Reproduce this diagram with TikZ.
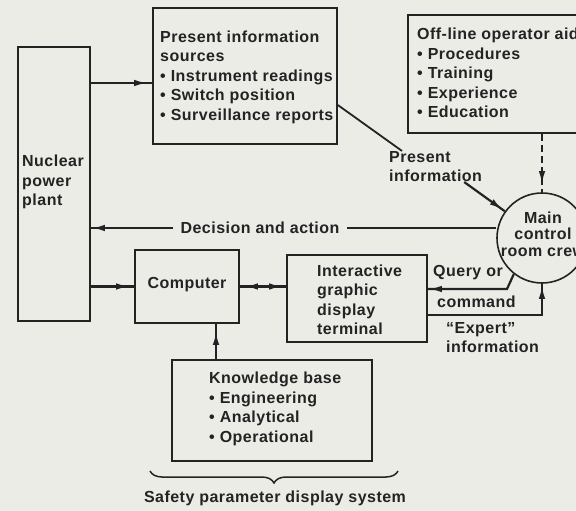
\documentclass[tikz,border=0pt]{standalone}
\usepackage{fontspec}
\setmainfont{Liberation Sans}[LetterSpace=3]
\usetikzlibrary{arrows.meta,decorations.markings,decorations.pathreplacing,calc}

\definecolor{paper}{RGB}{236,236,231}
\definecolor{ink}{RGB}{35,35,35}

\newcommand\bul{\textbullet\hspace{5pt}}

\tikzset{
  box/.style={draw=ink, line width=1.6pt, rectangle, inner sep=0pt},
  txt/.style={text=ink, font=\fontsize{16}{19.5}\selectfont\bfseries, inner sep=0pt, align=left},
  link/.style={color=ink, line width=2.2pt},
  headtip/.tip={Latex[length=13pt,width=6.5pt]},
  tipat/.style={postaction={decorate}, decoration={markings,
      mark=at position #1 with {\arrow{headtip}}}},
}

\begin{document}
\begin{tikzpicture}[x=1pt,y=-1pt]
\fill[paper] (0,0) rectangle (576,511);
\useasboundingbox (0,0) rectangle (576,511);

% blocks
\node[box, minimum width=72pt,  minimum height=274pt] (npp)  at (54,184) {};
\node[box, minimum width=184pt, minimum height=136pt] (info) at (245,76) {};
\node[box, minimum width=202pt, minimum height=118pt] (aids) at (509,74) {};
\node[box, minimum width=104pt, minimum height=73pt]  (comp) at (187,286.5) {};
\node[box, minimum width=140pt, minimum height=87pt]  (term) at (357,298.5) {};
\node[box, minimum width=200pt, minimum height=101pt] (kb)   at (272,410.5) {};
\node[draw=ink, line width=1.6pt, circle, minimum size=90pt, inner sep=0pt] (crew) at (542,238) {};

% block texts
\node[txt, anchor=west] (npptext) at (22,182) {Nuclear\\power\\plant};
\node[txt, anchor=west] (infotext) at (160,77)
  {Present information\\sources\\\bul Instrument readings\\\bul Switch position\\\bul Surveillance reports};
\node[txt, anchor=west] (aidstext) at (417,73)
  {Off-line operator aids\\\bul Procedures\\\bul Training\\\bul Experience\\\bul Education};
\node[txt, align=center, font=\fontsize{16}{16.5}\selectfont\bfseries] (crewtext) at (543,234)
  {Main\\control\\room crew};
\node[txt] (comptext) at (187,285) {Computer};
\node[txt, anchor=west] (termtext) at (317,300) {Interactive\\graphic\\display\\terminal};
\node[txt, anchor=west] (kbtext) at (209,409)
  {Knowledge base\\\bul Engineering\\\bul Analytical\\\bul Operational};

% connector labels
\node[txt, anchor=west] (pres) at (389,166.5) {Present\\information};
\node[txt] (dec) at (260,228) {Decision and action};
\node[txt, anchor=west] (query) at (433,273) {Query or};
\node[txt, anchor=west] (cmd) at (437,302) {command};
\node[txt, anchor=west] (expert) at (446,337.5) {``Expert''\\information};
\node[txt] (safety) at (275,498) {Safety parameter display system};

% helper coordinates
\coordinate (ya) at (0,83);
\coordinate (yb) at (0,105);
\coordinate (xk) at (216,0);
\coordinate (qb) at (507,289);
\coordinate (eb) at (542,315);

% connectors
\draw[link, tipat=-5pt] (npp.east |- ya) -- (info.west |- ya);
\draw[link, tipat=-5pt] (npp.east |- comp.west) -- (comp.west);
\draw[link, postaction={decorate}, decoration={markings,
    mark=at position 5pt with {\arrowreversed{headtip}},
    mark=at position -4pt with {\arrow{headtip}}}]
  (comp.east) -- (comp.east -| term.west);
\draw[link, tipat=-8pt] (kb.north -| xk) -- (comp.south -| xk);

\draw[link, line width=1.8pt] (info.east |- yb) -- ([xshift=13pt]pres.north west);
\draw[link, tipat=-3pt] ([xshift=-18pt]pres.south east) -- (crew);

\draw[link, dash pattern=on 7pt off 4pt, tipat=-8pt] (aids.south -| crew.north) -- (crew.north);

\draw[link] (dec.east -| crew.west) -- ([xshift=7pt]dec.east);
\draw[link, tipat=-1pt] ([xshift=-7pt]dec.west) -- (dec.west -| npp.east);

\draw[link, tipat=-1pt] (crew.232) -- (qb) -- (qb -| term.east);
\draw[link, tipat=-2pt] (eb -| term.east) -- (eb -| crew.south) -- (crew.south);

% bracket grouping the display system
\draw[ink, line width=1.5pt, decorate, decoration={brace, amplitude=12pt, mirror}]
  (150,471) -- (398,471);
\end{tikzpicture}
\end{document}
